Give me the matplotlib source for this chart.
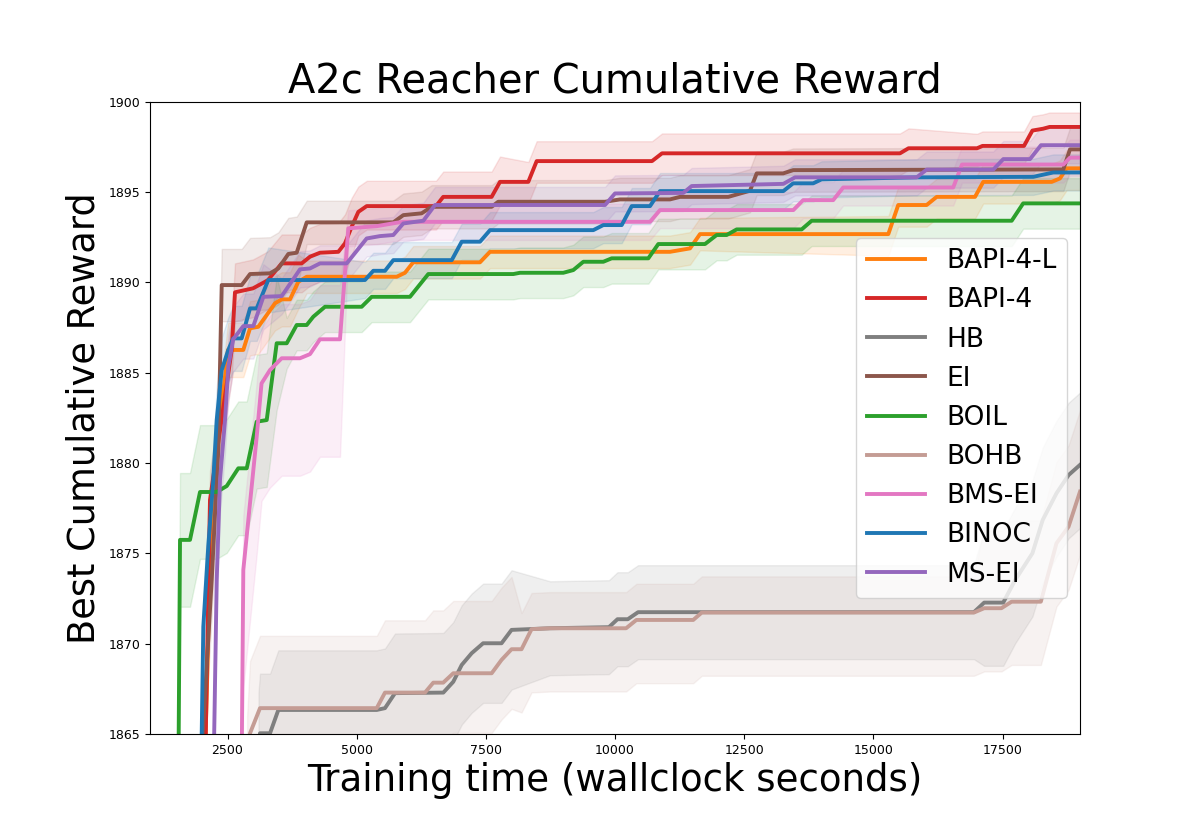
import numpy as np
import matplotlib
matplotlib.use("Agg")
import matplotlib.pyplot as plt

# ---------------- data ----------------
labels = ["BAPI-4-L", "BAPI-4", "HB", "EI", "BOIL", "BOHB", "BMS-EI", "BINOC", "MS-EI"]
colors = ["#ff7f0e", "#d62728", "#7f7f7f", "#8c564b", "#2ca02c", "#c49c94", "#e377c2", "#1f77b4", "#9467bd"]

bapi4l_x = [2050, 2160, 2300, 2510, 2806, 2936, 3096, 3259, 3419, 3549, 3710, 3870, 4033, 5775, 5935, 6094, 7387,
            7581, 11064, 11452, 11645, 15290, 15482, 16032, 16226, 16968, 17127, 18452, 18612, 18742, 19000]
bapi4l_y = [1862, 1874, 1881, 1886.26, 1886.26, 1887.46, 1887.54, 1888.19, 1888.84, 1889.06, 1889.06, 1890.03,
            1890.31, 1890.31, 1890.53, 1891.11, 1891.11, 1891.69, 1891.69, 1891.88, 1892.67, 1892.67, 1894.28,
            1894.28, 1894.73, 1894.73, 1895.56, 1895.56, 1895.75, 1896.31, 1896.31]

bapi4_x = [2060, 2161, 2581, 2645, 2994, 3226, 3284, 3549, 3936, 4097, 4290, 4645, 4774, 4904, 5032, 5194, 6535,
           6675, 7612, 7774, 8322, 8484, 10716, 10910, 15516, 15681, 17007, 17113, 17916, 18079, 18284, 18412, 19000]
bapi4_y = [1862, 1877.96, 1886.26, 1889.45, 1889.67, 1890.03, 1890.13, 1891.05, 1891.05, 1891.42, 1891.64, 1891.69,
           1892.16, 1893.08, 1893.9, 1894.22, 1894.22, 1894.73, 1894.73, 1895.56, 1895.56, 1896.71, 1896.71,
           1897.14, 1897.14, 1897.42, 1897.42, 1897.55, 1897.55, 1898.4, 1898.5, 1898.6, 1898.6]

hb_x = [3100, 3129, 3323, 3484, 5388, 5548, 5742, 6677, 6870, 7033, 7226, 7448, 7804, 7998, 8742, 9882, 10048,
        10248, 10447, 16947, 17146, 17514, 17746, 18079, 18278, 18545, 18780, 19000]
hb_y = [1864.0, 1865.05, 1865.05, 1866.34, 1866.34, 1866.44, 1867.27, 1867.3, 1867.9, 1868.83, 1869.48, 1870.03,
        1870.03, 1870.77, 1870.86, 1870.92, 1871.36, 1871.36, 1871.75, 1871.75, 1872.28, 1872.28, 1873.53,
        1875.01, 1876.85, 1878.33, 1879.34, 1879.9]

ei_x = [1960, 2194, 2321, 2388, 2775, 2936, 3323, 3484, 3677, 3839, 4033, 5709, 5903, 6257, 6450, 7612, 7739, 9807,
        10097, 11064, 11258, 12193, 12613, 12742, 13255, 13449, 18677, 18806, 19000]
ei_y = [1862, 1873.5, 1880.7, 1889.85, 1889.85, 1890.46, 1890.5, 1890.77, 1891.57, 1891.64, 1893.32, 1893.32,
        1893.72, 1893.82, 1894.18, 1894.18, 1894.46, 1894.46, 1894.59, 1894.59, 1894.73, 1894.73, 1895.07,
        1896.03, 1896.03, 1896.21, 1896.25, 1897.36, 1897.36]

boil_x = [1548, 1581, 1774, 1968, 2291, 2485, 2709, 2872, 3065, 3259, 3452, 3646, 3839, 4033, 4161, 4387, 5097,
          5291, 6032, 6386, 8032, 8161, 8999, 9193, 9387, 9774, 9936, 10645, 10838, 11742, 11968, 12161, 12355,
          13613, 13807, 17678, 17900, 19000]
boil_y = [1862, 1875.75, 1875.75, 1878.4, 1878.4, 1878.73, 1879.71, 1879.71, 1882.29, 1882.38, 1886.63, 1886.63,
          1887.64, 1887.64, 1888.1, 1888.65, 1888.65, 1889.2, 1889.2, 1890.46, 1890.46, 1890.53, 1890.53, 1890.68,
          1891.14, 1891.14, 1891.33, 1891.33, 1892.12, 1892.12, 1892.62, 1892.62, 1892.93, 1892.93, 1893.41,
          1893.41, 1894.37, 1894.37]

bohb_x = [2880, 2936, 3129, 5388, 5548, 6322, 6483, 6675, 6870, 7613, 7804, 7998, 8191, 8385, 8742, 10215, 10414,
          11514, 11680, 16947, 17146, 17479, 17677, 18242, 18544, 18778, 19000]
bohb_y = [1862, 1865.05, 1866.44, 1866.44, 1867.3, 1867.3, 1867.85, 1867.85, 1868.37, 1868.37, 1869.11, 1869.7,
          1869.7, 1870.81, 1870.86, 1870.86, 1871.32, 1871.32, 1871.73, 1871.73, 1871.97, 1871.97, 1872.33,
          1872.33, 1875.56, 1876.48, 1878.42]

bmsei_x = [2770, 2806, 3065, 3159, 3323, 3549, 3903, 4097, 4290, 4677, 4838, 5388, 5775, 5903, 10678, 10871, 13452,
           13642, 14223, 14417, 16546, 16716, 18677, 18806, 19000]
bmsei_y = [1862, 1874.09, 1881.46, 1884.41, 1885.15, 1885.8, 1885.8, 1886.03, 1886.85, 1886.85, 1892.99, 1893.11,
           1893.3, 1893.35, 1893.35, 1894.0, 1894.0, 1894.55, 1894.55, 1895.25, 1895.25, 1896.52, 1896.52,
           1896.9, 1896.9]

binoc_x = [1985, 2032, 2128, 2225, 2291, 2388, 2515, 2610, 2774, 2936, 3065, 3290, 5161, 5322, 5548, 5709, 6840,
           7033, 7387, 7581, 9580, 9774, 10130, 10324, 10678, 10871, 13258, 13448, 13836, 13998, 15837, 18096,
           18483, 19000]
binoc_y = [1862, 1870.95, 1875.4, 1879.07, 1882.38, 1885.15, 1886.26, 1886.9, 1886.9, 1888.56, 1888.56, 1890.13,
           1890.13, 1890.64, 1890.64, 1891.23, 1891.23, 1892.25, 1892.25, 1892.89, 1892.89, 1893.17, 1893.17,
           1894.22, 1894.22, 1895.05, 1895.05, 1895.48, 1895.48, 1895.7, 1895.81, 1895.84, 1896.08, 1896.08]

msei_x = [2225, 2291, 2355, 2452, 2516, 2610, 2806, 3000, 3194, 3549, 3903, 4097, 4290, 4807, 5194, 5452, 5709,
          5903, 6290, 6516, 9807, 10000, 11322, 11484, 13258, 13484, 15839, 16032, 17322, 17515, 18032, 18245, 19000]
msei_y = [1862, 1873.53, 1879.07, 1882.38, 1885.33, 1886.85, 1887.58, 1887.58, 1889.2, 1889.24, 1890.72, 1890.77,
          1891.05, 1891.05, 1892.43, 1892.56, 1892.62, 1893.26, 1893.41, 1894.28, 1894.28, 1894.92, 1894.95,
          1895.33, 1895.45, 1895.81, 1895.81, 1896.24, 1896.24, 1896.82, 1896.82, 1897.59, 1897.59]

# band spread (below / above the mean), piecewise constant from each start time
bapi4l_band = ([0, 4000, 15000], [1.5, 0.9, 1.2], [1.5, 0.9, 1.0])
bapi4_band = ([0, 5000, 8000, 17000], [1.6, 1.3, 1.2, 1.0], [1.6, 1.4, 1.1, 0.8])
hb_band = ([0, 8000, 17000], [3.3, 2.6, 3.5], [3.3, 2.6, 4.0])
ei_band = ([0, 4000], [2.0, 1.2], [2.0, 1.2])
boil_band = ([0, 3500], [3.7, 1.4], [3.7, 1.4])
bohb_band = ([0, 8000, 17000], [3.3, 3.5, 3.5], [4.0, 2.0, 4.5])
bmsei_band = ([0, 4800], [6.5, 1.0], [3.0, 1.0])
binoc_band = ([0, 3500], [1.8, 1.0], [1.8, 1.0])
msei_band = ([0, 3500], [1.8, 1.0], [1.8, 1.0])

series_x = [bapi4l_x, bapi4_x, hb_x, ei_x, boil_x, bohb_x, bmsei_x, binoc_x, msei_x]
series_y = [bapi4l_y, bapi4_y, hb_y, ei_y, boil_y, bohb_y, bmsei_y, binoc_y, msei_y]
bands = [bapi4l_band, bapi4_band, hb_band, ei_band, boil_band, bohb_band, bmsei_band, binoc_band, msei_band]

x_ticks = [2500, 5000, 7500, 10000, 12500, 15000, 17500]
y_ticks = [1865, 1870, 1875, 1880, 1885, 1890, 1895, 1900]

# ---------------- plot ----------------
fig = plt.figure(figsize=(12, 8.4), dpi=100)
ax = fig.add_axes([0.125, 0.126, 0.775, 0.753])

for lab, col, xs, ys, band in zip(labels, colors, series_x, series_y, bands):
    xs = np.asarray(xs, float)
    ys = np.asarray(ys, float)
    bx, blo, bhi = band
    idx = np.searchsorted(np.asarray(bx), xs, side="right") - 1
    lo = ys - np.asarray(blo)[idx]
    hi = ys + np.asarray(bhi)[idx]
    ax.plot(xs, ys, color=col, lw=2.8, label=lab)
    ax.fill_between(xs, lo, hi, color=col, alpha=0.12)

ax.set_xlim(1000, 19000)
ax.set_ylim(1865, 1900)
ax.set_xticks(x_ticks)
ax.set_yticks(y_ticks)
ax.tick_params(labelsize=9)
ax.set_title("A2c Reacher Cumulative Reward", fontsize=28.8)
ax.set_xlabel("Training time (wallclock seconds)", fontsize=26.7)
ax.set_ylabel("Best Cumulative Reward", fontsize=26.5)
ax.legend(loc="center right", fontsize=19, handlelength=2.2, labelspacing=0.5)

fig.savefig("out.png", dpi=100)
